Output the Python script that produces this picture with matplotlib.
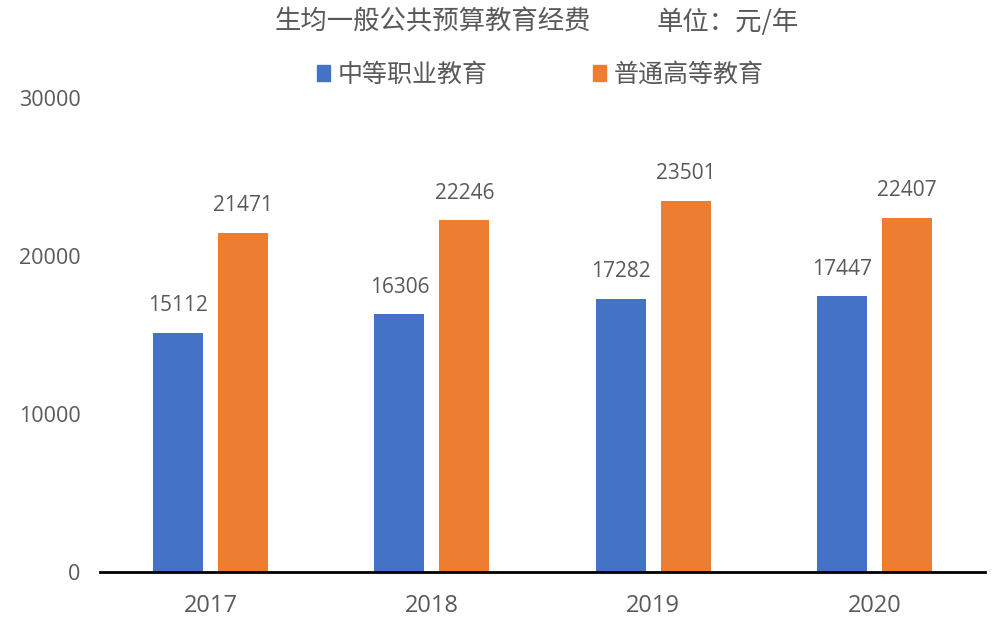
import numpy as np
import matplotlib
matplotlib.use('Agg')
import matplotlib.pyplot as plt
from matplotlib.patches import Patch

plt.rcParams['font.family'] = ['Noto Sans CJK SC', 'DejaVu Sans']

years = ['2017', '2018', '2019', '2020']
zhongzhi = [15112, 16306, 17282, 17447]   # 中等职业教育
gaodeng = [21471, 22246, 23501, 22407]    # 普通高等教育
series_names = ['中等职业教育', '普通高等教育']
yticks = [0, 10000, 20000, 30000]

blue = '#4472C4'
orange = '#ED7D31'
grey = '#595959'
num_font = ['Open Sans', 'DejaVu Sans']

fig = plt.figure(figsize=(10, 6.19), dpi=100)
ax = fig.add_axes([0.10, 0.076, 0.885, 0.766])

x = np.arange(len(years))
w = 0.226
off = 0.147
b1 = ax.bar(x - off, zhongzhi, w, color=blue)
b2 = ax.bar(x + off, gaodeng, w, color=orange)

for bars, vals in ((b1, zhongzhi), (b2, gaodeng)):
    for r, v in zip(bars, vals):
        ax.annotate(str(v), (r.get_x() + r.get_width() / 2, v), xytext=(0, 12),
                    textcoords='offset points', ha='center', va='bottom',
                    fontsize=15, color=grey, family=num_font)

ax.set_xlim(-0.5, len(years) - 0.5)
ax.set_ylim(0, 30000)
ax.set_yticks(yticks)
ax.set_yticklabels([str(t) for t in yticks], family=num_font)
ax.set_xticks(x)
ax.set_xticklabels(years, family=num_font)
ax.tick_params(axis='y', length=0, pad=14, labelsize=15.5, labelcolor=grey)
ax.tick_params(axis='x', length=0, pad=16, labelsize=17, labelcolor=grey)
for s in ('top', 'right', 'left'):
    ax.spines[s].set_visible(False)
ax.spines['bottom'].set_linewidth(2)
ax.spines['bottom'].set_color('black')

# 标题和单位
fig.text(0.275, 0.964, '生均一般公共预算教育经费', ha='left', va='center',
         fontsize=19, color=grey)
fig.text(0.657, 0.964, '单位：元/年', ha='left', va='center',
         fontsize=19, color=grey)

handles = [Patch(color=blue), Patch(color=orange)]
fig.legend(handles, series_names, loc='center', bbox_to_anchor=(0.54, 0.879), ncol=2,
           frameon=False, fontsize=18, labelcolor=grey, handlelength=0.52, handleheight=0.6,
           handletextpad=0.32, columnspacing=4.2)

fig.savefig('out.png', dpi=100)
